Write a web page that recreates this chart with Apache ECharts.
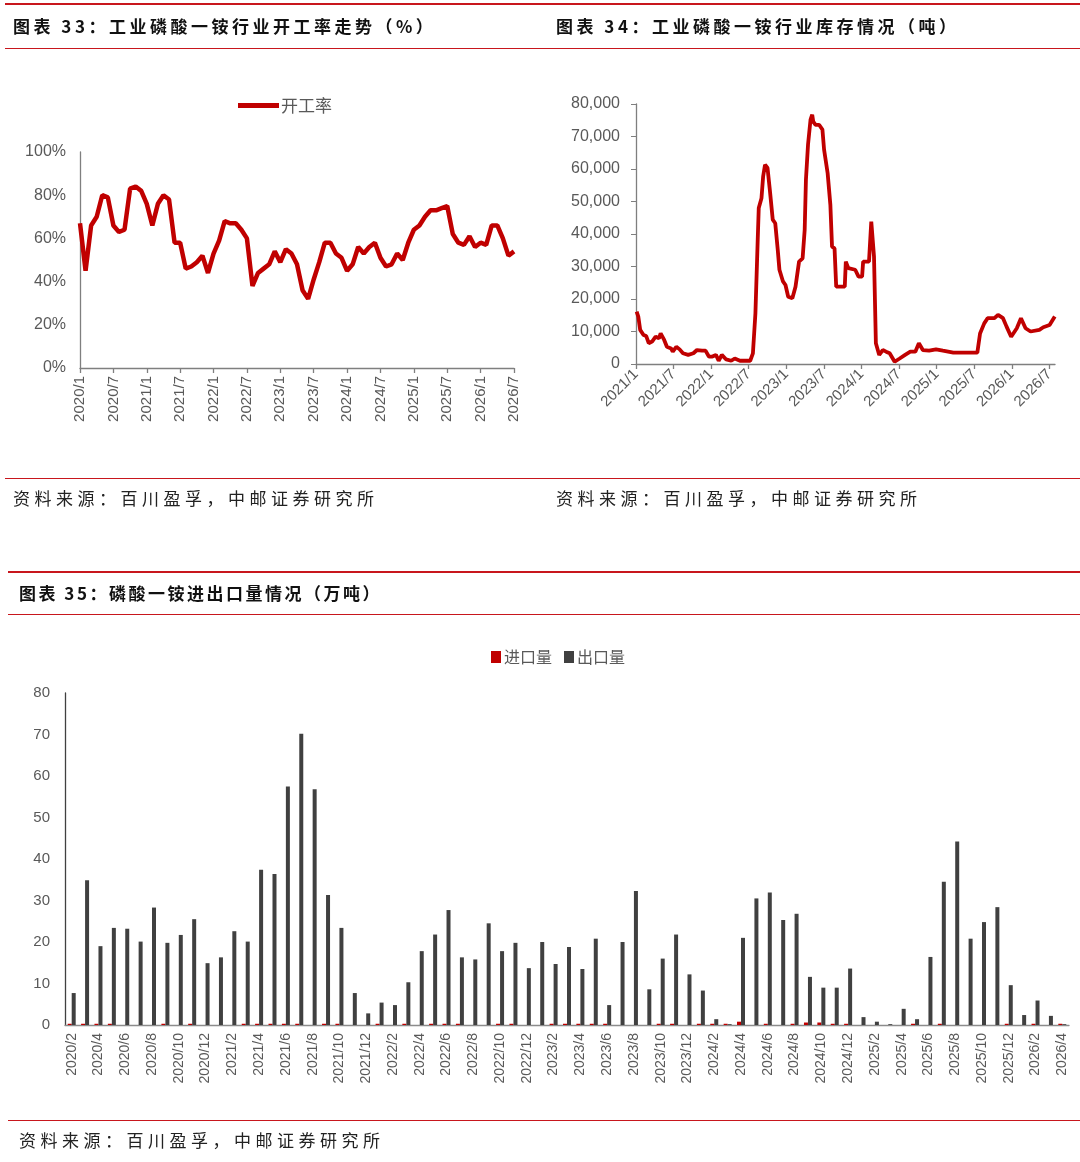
<!DOCTYPE html>
<html>
<head>
<meta charset="utf-8">
<script src="https://cdn.jsdelivr.net/npm/echarts@6/dist/echarts.min.js"></script>
<style>
body { margin: 0; background: #fff; }
#wrap { position: relative; width: 1080px; height: 1162px; overflow: hidden; }
#chart { position: absolute; left: 0; top: 0; width: 1080px; height: 1162px; }
.t { position: absolute; font-family: "Noto Sans CJK SC"; font-weight: bold; font-size: 17px; color: #111; letter-spacing: 3px; white-space: nowrap; line-height: 20px; }
.s { position: absolute; font-family: "Noto Sans CJK SC"; font-size: 17px; color: #222; letter-spacing: 4.5px; white-space: nowrap; line-height: 20px; }
.ln { position: absolute; background: #c8161d; }
</style>
</head>
<body>
<div id="wrap">
	<div id="chart"></div>
	<!-- 表头、表尾 -->
	<div class="ln" style="left:5px;top:3px;width:1075px;height:2px"></div>
	<div class="t" style="left:13px;top:16px;letter-spacing:3.5px">图表 33：工业磷酸一铵行业开工率走势（%）</div>
	<div class="t" style="left:556px;top:16px;letter-spacing:3.5px">图表 34：工业磷酸一铵行业库存情况（吨）</div>
	<div class="ln" style="left:5px;top:48px;width:1075px;height:1px"></div>
	<div class="ln" style="left:5px;top:478px;width:1075px;height:1px"></div>
	<div class="s" style="left:13px;top:488px">资料来源：百川盈孚，中邮证券研究所</div>
	<div class="s" style="left:556px;top:488px">资料来源：百川盈孚，中邮证券研究所</div>

	<div class="ln" style="left:8px;top:571px;width:1072px;height:2px"></div>
	<div class="t" style="left:19px;top:583px;letter-spacing:2.5px">图表 35：磷酸一铵进出口量情况（万吨）</div>
	<div class="ln" style="left:8px;top:614px;width:1072px;height:1px"></div>
	<div class="ln" style="left:8px;top:1120px;width:1072px;height:1px"></div>
	<div class="s" style="left:19px;top:1130px">资料来源：百川盈孚，中邮证券研究所</div>
</div>
<script>
// 图表33 开工率（%），2020/1 - 2026/7 月度
var rateMonths = [];
for (var y = 2020; y <= 2026; y++) {
	for (var m = 1; m <= 12; m++) {
		if (y == 2026 && m > 7) break;
		rateMonths.push(y + '/' + m);
	}
}
var rateValues = [67, 45, 66, 70, 80, 79, 66, 63, 64, 83, 84, 82,
	76, 66, 76, 80, 78, 58, 58, 46, 47, 49, 52, 44,
	53, 59, 68, 67, 67, 64, 60, 38, 44, 46, 48, 54,
	49, 55, 53, 48, 36, 32, 41, 49, 58, 58, 53, 51,
	45, 48, 56, 53, 56, 58, 51, 47, 48, 53, 50, 58,
	64, 66, 70, 73, 73, 74, 75, 62, 58, 57, 61, 56,
	58, 57, 66, 66, 60, 52, 54];

// 图表34 库存（吨）
var invDates = ['2021/1/4','2021/1/12','2021/1/21','2021/2/7','2021/2/20','2021/3/2','2021/3/18','2021/4/5','2021/4/21','2021/4/29','2021/5/16','2021/5/29','2021/6/19','2021/6/27','2021/7/14','2021/7/30','2021/8/16','2021/9/11','2021/10/6','2021/10/23','2021/11/17','2021/12/4','2021/12/20',
	'2022/1/7','2022/1/24','2022/2/7','2022/2/22','2022/3/13','2022/4/7','2022/4/24','2022/5/19','2022/6/22','2022/7/8','2022/7/21','2022/8/3','2022/8/14','2022/8/19','2022/9/2','2022/9/10','2022/9/19','2022/10/1','2022/10/12','2022/10/26','2022/11/8','2022/11/20','2022/11/28','2022/12/15','2022/12/27',
	'2023/1/10','2023/1/30','2023/2/15','2023/3/2','2023/3/19','2023/3/29','2023/4/5','2023/4/15','2023/4/27','2023/5/5','2023/5/10','2023/5/21','2023/6/8','2023/6/24','2023/7/2','2023/7/19','2023/8/2','2023/8/10','2023/8/22','2023/8/30','2023/10/11','2023/10/16','2023/10/28','2023/12/1','2023/12/17',
	'2024/1/4','2024/1/9','2024/2/7','2024/2/18','2024/3/1','2024/3/10','2024/3/26','2024/4/13','2024/4/29','2024/5/16','2024/6/10','2024/7/4','2024/7/30','2024/8/25','2024/9/19','2024/10/6','2024/10/25','2024/11/25','2024/12/28',
	'2025/2/1','2025/3/21','2025/5/10','2025/7/16','2025/7/29','2025/8/19','2025/9/5','2025/10/8','2025/10/25','2025/11/19','2025/12/6','2025/12/28',
	'2026/1/25','2026/2/15','2026/3/7','2026/4/1','2026/5/13','2026/6/2','2026/7/2','2026/7/27'];
var invValues = [16100,14600,10500,8900,8600,6400,6900,8400,7900,9400,7400,5300,4800,3800,5300,4500,3300,2800,3300,4300,4100,4100,2300,
	2300,2800,1000,2800,1400,1000,1700,1000,1000,1000,3300,15600,38200,48000,51000,57700,61300,60300,53600,44400,43300,35100,29000,25400,24300,
	20700,20200,23800,31500,32500,41300,56700,67500,75200,76700,74600,73600,73600,72100,65900,58700,49000,36100,35600,23800,23800,31500,29500,29000,26900,
	26900,31500,31500,43800,33100,6400,2800,4300,3800,3300,700,1700,2800,3800,3800,6400,4300,4100,4500,
	4100,3500,3500,3500,9400,12500,14100,14100,15100,14100,11500,8400,
	11000,14100,11000,10000,10500,11300,12000,14600];

// 图表35 进出口量（万吨），2020/2 - 2026/4
var tradeMonths = [];
for (var y = 2020; y <= 2026; y++) {
	for (var m = 1; m <= 12; m++) {
		if (y == 2020 && m < 2) continue;
		if (y == 2026 && m > 4) break;
		tradeMonths.push(y + '/' + m);
	}
}
var importValues = [0.3,0.3,0.3,0.3,0,0,0,0.3,0,0.3,0,
	0,0,0.3,0.3,0.3,0.3,0.3,0,0.3,0.3,0,0,
	0.3,0,0.3,0,0.3,0.3,0.3,0,0,0.3,0.3,0,
	0,0.3,0.3,0.3,0.3,0.3,0,0,0,0.3,0.3,0,
	0.3,0.3,0.3,0.8,0,0.3,0,0.3,0.6,0.6,0.3,0.3,
	0,0,0,0,0.3,0,0.3,0,0,0,0,0.3,
	0,0.3,0,0.3];
var exportValues = [7.7,34.9,19.0,23.4,23.2,20.1,28.3,19.8,21.7,25.5,14.9,
	16.3,22.6,20.1,37.4,36.4,57.5,70.2,56.8,31.3,23.4,7.7,2.8,
	5.4,4.8,10.3,17.8,21.8,27.7,16.3,15.8,24.5,17.8,19.8,13.7,
	20.0,14.7,18.8,13.5,20.8,4.8,20.0,32.3,8.6,16.0,21.8,12.2,
	8.3,1.4,0.2,21.0,30.5,31.9,25.3,26.8,11.6,9.0,9.0,13.6,
	1.9,0.8,0.2,3.9,1.4,16.4,34.5,44.2,20.8,24.8,28.4,9.6,
	2.4,5.9,2.2,0.2];

var RED = '#C00000';
var GRAY_TXT = '#595959';
var NARROW = '"Liberation Sans Narrow", "Liberation Sans", sans-serif';

// 库存横轴：距 2021/1 的月数
function monthPos(s) {
	var p = s.split('/');
	return (+p[0] - 2021) * 12 + (+p[1] - 1) + (+p[2] - 1) / 30;
}
var invData = invDates.map(function(d, i) { return [monthPos(d), invValues[i]]; });
var halfYears = [];
for (var k = 0; k <= 66; k += 6) halfYears.push(k);

function axisLineStyle(c) {
	return { show : true, lineStyle : { color : c || '#7f7f7f', width : 1.3 } };
}

var chart = echarts.init(document.getElementById('chart'));
chart.setOption({
	animation : false,
	textStyle : { fontFamily : NARROW },
	legend : [ {
		data : [ '开工率' ],
		left : 233, top : 92,
		icon : 'rect', itemWidth : 41, itemHeight : 5,
		textStyle : { color : GRAY_TXT, fontSize : 17, fontFamily : 'Noto Sans CJK SC', padding : [ 0, 0, 0, -3 ] }
	}, {
		data : [ '进口量', '出口量' ],
		left : 486, top : 644,
		icon : 'rect', itemWidth : 10, itemHeight : 12, itemGap : 12,
		textStyle : { color : GRAY_TXT, fontSize : 16, fontFamily : 'Noto Sans CJK SC', padding : [ 0, 0, 0, -2 ] }
	} ],
	grid : [
		{ left : 80, top : 152, width : 434, height : 216 },
		{ left : 636, top : 104, width : 419, height : 260 },
		{ left : 65, top : 693, width : 1004, height : 332 }
	],
	xAxis : [ {
		gridIndex : 0,
		type : 'category',
		data : rateMonths,
		boundaryGap : false,
		axisLine : axisLineStyle(),
		axisTick : { interval : 5, length : 5, lineStyle : { color : '#7f7f7f', width : 1.3 } },
		axisLabel : { interval : 5, rotate : 90, margin : 8, color : GRAY_TXT, fontSize : 15 }
	}, {
		gridIndex : 1,
		type : 'value',
		min : 0, max : 66.9,
		splitLine : { show : false },
		axisLine : axisLineStyle(),
		axisTick : { show : true, customValues : halfYears, length : 5, lineStyle : { color : '#7f7f7f', width : 1.3 } },
		axisLabel : {
			customValues : halfYears, rotate : 45, margin : 8, color : GRAY_TXT, fontSize : 15,
			formatter : function(v) { return (2021 + Math.floor(v / 12)) + '/' + (v % 12 + 1); }
		}
	}, {
		gridIndex : 2,
		type : 'category',
		data : tradeMonths,
		axisLine : axisLineStyle('#8c8c8c'),
		axisTick : { interval : 1, length : 5, lineStyle : { color : '#8c8c8c', width : 1.3 } },
		axisLabel : { interval : 1, rotate : 90, margin : 8, color : GRAY_TXT, fontSize : 14 }
	} ],
	yAxis : [ {
		gridIndex : 0,
		min : 0, max : 100, interval : 20,
		splitLine : { show : false },
		axisLine : axisLineStyle(),
		axisLabel : { color : GRAY_TXT, fontSize : 16, margin : 14, formatter : '{value}%' }
	}, {
		gridIndex : 1,
		min : 0, max : 80000, interval : 10000,
		splitLine : { show : false },
		axisLine : axisLineStyle(),
		axisLabel : {
			color : GRAY_TXT, fontSize : 16, margin : 16,
			formatter : function(v) { return String(v).replace(/\B(?=(\d{3})+(?!\d))/g, ','); }
		}
	}, {
		gridIndex : 2,
		min : 0, max : 80, interval : 10,
		splitLine : { show : false },
		axisLine : axisLineStyle('#404040'),
		axisLabel : { color : GRAY_TXT, fontSize : 15, margin : 15 }
	} ],
	series : [ {
		name : '开工率',
		type : 'line',
		xAxisIndex : 0, yAxisIndex : 0,
		data : rateValues,
		symbol : 'none',
		itemStyle : { color : RED },
		lineStyle : { color : RED, width : 4.5 }
	}, {
		name : '库存',
		type : 'line',
		xAxisIndex : 1, yAxisIndex : 1,
		data : invData,
		symbol : 'none',
		lineStyle : { color : RED, width : 3.8 }
	}, {
		name : '进口量',
		type : 'bar',
		xAxisIndex : 2, yAxisIndex : 2,
		data : importValues,
		barWidth : 4, barGap : '0%',
		itemStyle : { color : RED }
	}, {
		name : '出口量',
		type : 'bar',
		xAxisIndex : 2, yAxisIndex : 2,
		data : exportValues,
		barWidth : 4, barGap : '0%',
		itemStyle : { color : '#404040' }
	} ]
});
</script>
</body>
</html>
